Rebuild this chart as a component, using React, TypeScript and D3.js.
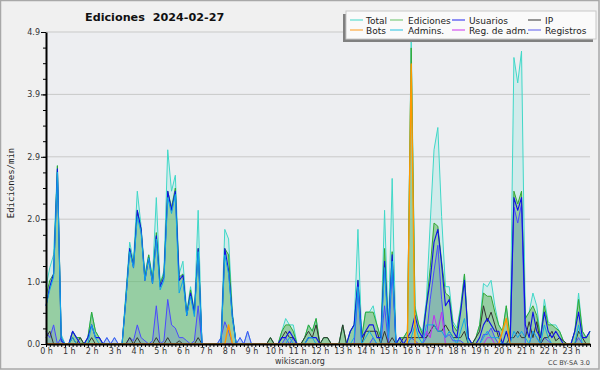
import React, { useRef, useEffect } from 'react'
import * as d3 from 'd3'

// 10-minute bins, 0:00 .. 23:50 (edits per minute)
const hourLabels = ['0 h', '1 h', '2 h', '3 h', '4 h', '5 h', '6 h', '7 h', '8 h', '9 h', '10 h', '11 h',
  '12 h', '13 h', '14 h', '15 h', '16 h', '17 h', '18 h', '19 h', '20 h', '21 h', '22 h', '23 h']

const total = [
  0.9, 1.2, 1.4, 2.8, 0.15, 0, 0, 0.2, 0.1, 0.1, 0, 0.1,
  0.5, 0.2, 0.1, 0, 0.1, 0, 0.1, 0, 0, 0.8, 1.6, 1.3,
  2.4, 1.85, 1.1, 1.4, 1.05, 2.3, 0.95, 1.15, 3.05, 2.4, 2.65, 1.1,
  1.3, 0.5, 0.9, 0.5, 2.1, 0, 0, 0, 0, 0, 0.1, 1.8,
  1.65, 0.5, 0, 0.1, 0, 0.2, 0, 0, 0, 0, 0, 0.1,
  0, 0, 0.2, 0.4, 0.3, 0.3, 0, 0, 0.1, 0.3, 0.2, 0.4,
  0, 0.1, 0.1, 0, 0, 0, 0.3, 0, 0.2, 0.3, 1.8, 0.1,
  0.5, 0.5, 0.6, 0.3, 0.1, 2.1, 0.2, 2.6, 0, 0.1, 0.1, 0.2,
  4.8, 0.6, 0.3, 0.2, 0.7, 1.9, 3.05, 3.4, 2.0, 0.9, 0.9, 0.35,
  0.25, 0.6, 1.1, 0.1, 0, 0.1, 0.3, 0.95, 0.9, 1.0, 0.6, 0.3,
  0.2, 0.6, 0.1, 4.5, 4.1, 4.6, 0.4, 0.5, 0.8, 0.6, 0.1, 0.7,
  0.35, 0.3, 0.3, 0.2, 0.05, 0, 0, 0.2, 0.8, 0.2, 0.1, 0.2,
]

const ediciones = [
  0.75, 1.0, 1.1, 2.8, 0.1, 0, 0, 0.2, 0.1, 0.1, 0, 0.1,
  0.5, 0.2, 0.1, 0, 0, 0, 0, 0, 0, 0.75, 1.5, 1.25,
  2.1, 1.8, 1.05, 1.4, 1.0, 1.75, 0.95, 1.1, 2.4, 2.15, 2.45, 1.05,
  1.1, 0.48, 0.85, 0.5, 1.5, 0, 0, 0, 0, 0, 0, 1.5,
  1.4, 0.45, 0, 0, 0, 0, 0, 0, 0, 0, 0, 0.1,
  0, 0, 0.2, 0.3, 0.3, 0.2, 0, 0, 0.1, 0.3, 0.2, 0.4,
  0, 0.1, 0.1, 0, 0, 0, 0.3, 0, 0.2, 0.3, 1.0, 0.1,
  0.5, 0.5, 0.5, 0.3, 0.1, 1.5, 0.2, 1.45, 0, 0.1, 0.1, 0.2,
  4.65, 0.55, 0.3, 0.15, 0.6, 1.2, 1.9, 1.85, 1.3, 0.8, 0.75, 0.3,
  0.2, 0.55, 1.1, 0.1, 0, 0.1, 0.3, 0.8, 0.75, 0.75, 0.5, 0.3,
  0.2, 0.6, 0.1, 2.4, 2.2, 2.4, 0.4, 0.5, 0.6, 0.45, 0.1, 0.6,
  0.3, 0.3, 0.25, 0.2, 0.05, 0, 0, 0.2, 0.7, 0.2, 0.1, 0.2,
]

const usuarios = [
  0.6, 0.9, 1.1, 2.75, 0.05, 0, 0, 0.2, 0.1, 0, 0, 0.1,
  0.3, 0.1, 0.1, 0, 0, 0, 0, 0, 0, 0.7, 1.5, 1.2,
  2.1, 1.8, 1.0, 1.35, 0.95, 1.7, 0.9, 1.05, 2.4, 2.1, 2.4, 1.0,
  1.08, 0.45, 0.8, 0.48, 1.5, 0, 0, 0, 0, 0, 0, 1.5,
  1.15, 0.43, 0, 0, 0, 0, 0, 0, 0, 0, 0, 0,
  0, 0, 0.1, 0.1, 0.2, 0.1, 0, 0, 0, 0.1, 0.1, 0.1,
  0, 0, 0, 0, 0, 0, 0, 0, 0.2, 0.3, 1.0, 0.1,
  0.2, 0.3, 0.3, 0.1, 0.1, 1.3, 0.2, 1.4, 0, 0.1, 0, 0.1,
  0.2, 0.45, 0.2, 0.1, 0.6, 1.0, 1.6, 1.8, 1.25, 0.6, 0.7, 0.2,
  0.1, 0.5, 1.0, 0.1, 0, 0, 0.1, 0.3, 0.4, 0.3, 0.2, 0.2,
  0, 0.2, 0, 2.3, 2.1, 2.3, 0.3, 0.1, 0.5, 0.2, 0.1, 0.5,
  0.2, 0.1, 0.2, 0.1, 0, 0, 0, 0.2, 0.5, 0.1, 0.1, 0.2,
]

const ip = [
  0.1, 0.2, 0, 0, 0, 0, 0, 0.1, 0, 0.1, 0, 0,
  0.1, 0, 0, 0, 0, 0, 0, 0, 0, 0, 0.1, 0,
  0.1, 0, 0, 0, 0, 0.1, 0, 0, 0.1, 0, 0, 0.05,
  0, 0, 0, 0, 0.1, 0, 0, 0, 0, 0, 0, 0,
  0, 0, 0, 0, 0, 0, 0, 0, 0, 0, 0, 0.1,
  0, 0, 0.1, 0.2, 0.1, 0.1, 0, 0, 0.1, 0.2, 0.1, 0.3,
  0, 0.1, 0.1, 0, 0, 0, 0.3, 0, 0, 0, 0, 0,
  0.2, 0.2, 0.2, 0.2, 0, 0.2, 0, 0.1, 0, 0, 0.1, 0.1,
  0.1, 0.1, 0.1, 0.1, 0.1, 0.2, 0.3, 0.2, 0.2, 0.3, 0.2, 0.1,
  0.1, 0.1, 0.2, 0, 0, 0.1, 0.2, 0.6, 0.35, 0.5, 0.3, 0.1,
  0, 0, 0.1, 0.1, 0.2, 0.1, 0.1, 0.35, 0.1, 0.35, 0, 0.1,
  0.1, 0.2, 0.05, 0.1, 0.05, 0, 0, 0, 0.2, 0.1, 0, 0,
]

const bots = [
  0, 0, 0, 0, 0, 0, 0, 0, 0, 0, 0, 0,
  0, 0, 0, 0, 0, 0, 0, 0, 0, 0, 0, 0,
  0, 0, 0, 0, 0, 0, 0, 0, 0, 0, 0, 0,
  0, 0, 0, 0, 0, 0, 0, 0, 0, 0, 0, 0,
  0.3, 0, 0, 0, 0, 0, 0, 0, 0, 0, 0, 0,
  0, 0, 0, 0, 0, 0, 0, 0, 0, 0, 0, 0,
  0, 0, 0, 0, 0, 0, 0, 0, 0, 0, 0, 0,
  0, 0, 0, 0, 0, 0, 0, 0, 0, 0, 0, 0,
  4.4, 0, 0, 0, 0, 0, 0, 0, 0, 0, 0, 0,
  0, 0, 0, 0, 0, 0, 0, 0, 0, 0, 0, 0,
  0.2, 0.4, 0, 0, 0, 0, 0, 0, 0, 0, 0, 0,
  0, 0, 0, 0, 0, 0, 0, 0, 0, 0, 0, 0,
]

const admins = [
  0.6, 0.85, 1.05, 2.7, 0.1, 0, 0, 0.1, 0, 0, 0, 0,
  0.3, 0.1, 0, 0, 0, 0, 0, 0, 0, 0.7, 1.45, 1.2,
  2.0, 1.75, 1.0, 1.35, 0.95, 1.65, 0.85, 1.0, 2.3, 2.05, 2.35, 0.8,
  1.0, 0.45, 0.75, 0.43, 1.45, 0, 0, 0, 0, 0, 0, 1.4,
  1.1, 0.4, 0, 0, 0, 0, 0, 0, 0, 0, 0, 0,
  0, 0, 0, 0, 0.1, 0, 0, 0, 0, 0.1, 0.1, 0,
  0, 0, 0, 0, 0, 0, 0, 0, 0, 0.1, 0.9, 0,
  0.1, 0.2, 0.1, 0, 0, 1.2, 0.1, 1.3, 0, 0, 0, 0,
  0.1, 0.3, 0.1, 0, 0.3, 0.3, 0.3, 0.2, 0.2, 0.1, 0.2, 0.1,
  0, 0.2, 0.4, 0, 0, 0, 0, 0.1, 0.2, 0.1, 0.1, 0.1,
  0, 0, 0, 0.2, 0.1, 0.2, 0.1, 0, 0.2, 0.1, 0, 0.3,
  0.1, 0, 0, 0, 0, 0, 0, 0, 0.3, 0, 0, 0,
]

const regAdm = [
  0, 0, 0, 0, 0, 0, 0, 0, 0, 0, 0, 0,
  0, 0, 0, 0, 0, 0, 0, 0, 0, 0, 0, 0,
  0, 0, 0, 0, 0, 0, 0, 0, 0, 0, 0, 0,
  0, 0, 0, 0, 0, 0, 0, 0, 0, 0, 0, 0,
  0, 0, 0, 0, 0, 0, 0, 0, 0, 0, 0, 0,
  0, 0, 0, 0, 0, 0, 0, 0, 0, 0, 0, 0,
  0, 0, 0, 0, 0, 0, 0, 0, 0, 0, 0, 0,
  0, 0, 0, 0, 0, 0, 0, 0, 0, 0, 0, 0,
  0, 0, 0, 0, 0.2, 0.1, 0.45, 0.2, 0.5, 0, 0, 0,
  0, 0, 0, 0, 0, 0, 0, 0, 0.1, 0.1, 0, 0,
  0, 0, 0, 0, 0, 0, 0, 0, 0, 0, 0, 0,
  0, 0, 0, 0, 0, 0, 0, 0, 0, 0, 0, 0,
]

const registros = [
  0.2, 0.1, 0.3, 0, 0.1, 0, 0, 0, 0, 0, 0, 0,
  0, 0, 0, 0, 0.1, 0, 0.1, 0, 0, 0, 0.1, 0.05,
  0.3, 0.1, 0.05, 0, 0.05, 0.6, 0, 0.05, 0.7, 0.3, 0.25, 0.1,
  0.1, 0.05, 0, 0.05, 0.6, 0, 0, 0, 0, 0, 0.1, 0.35,
  0.2, 0, 0, 0.1, 0, 0.2, 0, 0, 0, 0, 0, 0,
  0, 0, 0, 0.1, 0, 0.1, 0, 0, 0, 0, 0, 0,
  0, 0, 0, 0, 0, 0, 0, 0, 0, 0, 0.8, 0,
  0, 0, 0.1, 0, 0, 0.6, 0, 1.15, 0, 0, 0, 0,
  0.1, 0.05, 0, 0, 0.1, 0.7, 1.15, 1.55, 0.7, 0.1, 0.15, 0.05,
  0.05, 0.05, 0, 0, 0, 0, 0, 0.15, 0.15, 0.25, 0.1, 0,
  0, 0, 0, 2.15, 1.9, 2.2, 0, 0, 0.2, 0.1, 0, 0.1,
  0.05, 0, 0, 0, 0, 0, 0, 0, 0.1, 0, 0, 0,
]

const legendRows = [
  [['Total', '#40d8c8'], ['Ediciones', '#66c266'], ['Usuarios', '#2222ee'], ['IP', '#333333']],
  [['Bots', '#ff9a1a'], ['Admins.', '#22c0e0'], ['Reg. de adm.', '#cc33ee'], ['Registros', '#5a5aee']],
]

function EditsChart() {
  const svgRef = useRef<SVGSVGElement>(null)

  useEffect(() => {
    const svg = d3.select(svgRef.current)
    svg.selectAll('*').remove()

    const width = 600
    const height = 370
    const font = 'DejaVu Sans, Verdana, sans-serif'

    const x = d3.scaleLinear().domain([0, total.length - 1]).range([46, 590])
    const y = d3.scaleLinear().domain([0, 4.9]).range([344, 32])

    // background + frame
    svg.append('rect').attr('width', width).attr('height', height).attr('fill', '#f0f0f0')
    svg.append('rect').attr('x', 46).attr('y', 32).attr('width', 544).attr('height', 312).attr('fill', '#edeef1')
    svg.append('rect').attr('x', 0.5).attr('y', 0.5).attr('width', 598.5).attr('height', 368.5)
      .attr('fill', 'none').attr('stroke', '#a8a8a8').attr('stroke-width', 1.5)

    const majors = d3.range(6).map(k => (4.9 * k) / 5)
    const minors = d3.range(21).map(k => (4.9 * k) / 20)

    // grid
    svg.append('g').selectAll('line')
      .data(majors.filter(d => d > 0))
      .enter().append('line')
      .attr('x1', 46).attr('x2', 590)
      .attr('y1', d => y(d)).attr('y2', d => y(d))
      .attr('stroke', '#c9c9c9').attr('stroke-width', 1)

    const idx = d3.range(total.length)
    const area = (vals: number[]) => d3.area<number>().x(i => x(i)).y0(y(0)).y1(i => y(vals[i]))(idx)
    const line = (vals: number[]) => d3.line<number>().x(i => x(i)).y(i => y(vals[i]))(idx)

    const plot = svg.append('g')
    plot.append('path').attr('d', area(total)).attr('fill', '#40e0d0').attr('fill-opacity', 0.16)
    plot.append('path').attr('d', area(ediciones)).attr('fill', '#5cb25c').attr('fill-opacity', 0.5)
    plot.append('path').attr('d', area(registros)).attr('fill', '#3c3cff').attr('fill-opacity', 0.14)

    const lines: [number[], string, number][] = [
      [total, '#40d8c8', 1],
      [ediciones, '#33a833', 1],
      [registros, '#4a4aff', 1],
      [ip, '#333333', 1],
      [regAdm, '#c030f0', 1],
      [usuarios, '#1010e8', 1.1],
      [admins, '#10a8e8', 1],
      [bots, '#ff9900', 1.4],
    ]
    lines.forEach(([vals, color, w]) => {
      plot.append('path').attr('d', line(vals)).attr('fill', 'none')
        .attr('stroke', color).attr('stroke-width', w).attr('stroke-linejoin', 'round')
    })

    // y axis
    const yAxis = svg.append('g').attr('transform', 'translate(46,0)')
    yAxis.call(d3.axisLeft(y).tickValues(minors).tickSize(3).tickFormat(() => '').tickSizeOuter(0))
    yAxis.call(g => g.select('.domain').remove())
    const yMajor = svg.append('g').attr('transform', 'translate(46,0)')
      .call(d3.axisLeft(y).tickValues(majors).tickSize(5).tickPadding(1).tickSizeOuter(0)
        .tickFormat(d => d3.format('.1f')(d as number)))
    yMajor.selectAll('text').attr('font-size', 8).attr('font-family', font).attr('fill', '#333')
    yMajor.select('.domain').attr('stroke', '#000').attr('stroke-width', 2)

    // x axis
    const xAxis = svg.append('g').attr('transform', 'translate(0,344)')
      .call(d3.axisBottom(x).tickValues(idx).tickSize(3).tickPadding(1).tickSizeOuter(0)
        .tickFormat(d => ((d as number) % 6 === 0 ? hourLabels[(d as number) / 6] : '')))
    xAxis.selectAll('text').attr('font-size', 8).attr('font-family', font).attr('fill', '#333')
    xAxis.select('.domain').attr('stroke', '#000').attr('stroke-width', 2)

    // titles
    svg.append('text').attr('x', 85).attr('y', 21)
      .attr('font-family', font).attr('font-weight', 'bold').attr('font-size', 11.2)
      .style('white-space', 'pre').attr('fill', '#111')
      .text('Ediciones  2024-02-27')

    svg.append('text').attr('transform', 'translate(13.5,183) rotate(-90)')
      .attr('text-anchor', 'middle').attr('font-family', 'DejaVu Sans Mono, monospace').attr('font-size', 9)
      .attr('fill', '#222').text('Ediciones/min')

    svg.append('text').attr('x', 300).attr('y', 364).attr('text-anchor', 'middle')
      .attr('font-family', font).attr('font-size', 8).attr('fill', '#333').text('wikiscan.org')
    svg.append('text').attr('x', 590).attr('y', 365).attr('text-anchor', 'end')
      .attr('font-family', font).attr('font-size', 6.5).attr('fill', '#444').text('CC BY-SA 3.0')

    // legend
    const lg = svg.append('g')
    lg.append('rect').attr('x', 343).attr('y', 14).attr('width', 250).attr('height', 28).attr('fill', '#808080')
    lg.append('rect').attr('x', 346).attr('y', 11).attr('width', 250).attr('height', 28)
      .attr('fill', '#fafafa').attr('stroke', '#c8c8c8').attr('stroke-width', 1)
    const colLine = [350, 390, 452, 528]
    const colText = [366, 408, 469, 545]
    legendRows.forEach((row, r) => {
      row.forEach(([name, color], c) => {
        const ly = 20 + r * 10
        lg.append('line').attr('x1', colLine[c]).attr('x2', colLine[c] + 13)
          .attr('y1', ly).attr('y2', ly).attr('stroke', color).attr('stroke-width', 1)
        lg.append('text').attr('x', colText[c]).attr('y', ly + 3.5)
          .attr('font-family', font).attr('font-size', 9).attr('fill', '#222').text(name)
      })
    })
  }, [])

  return (
    <svg ref={svgRef} width="600" height="370" style={{ position: 'absolute', left: 0, top: 0 }}></svg>
  )
}

export default function App() {
  return <EditsChart />
}
